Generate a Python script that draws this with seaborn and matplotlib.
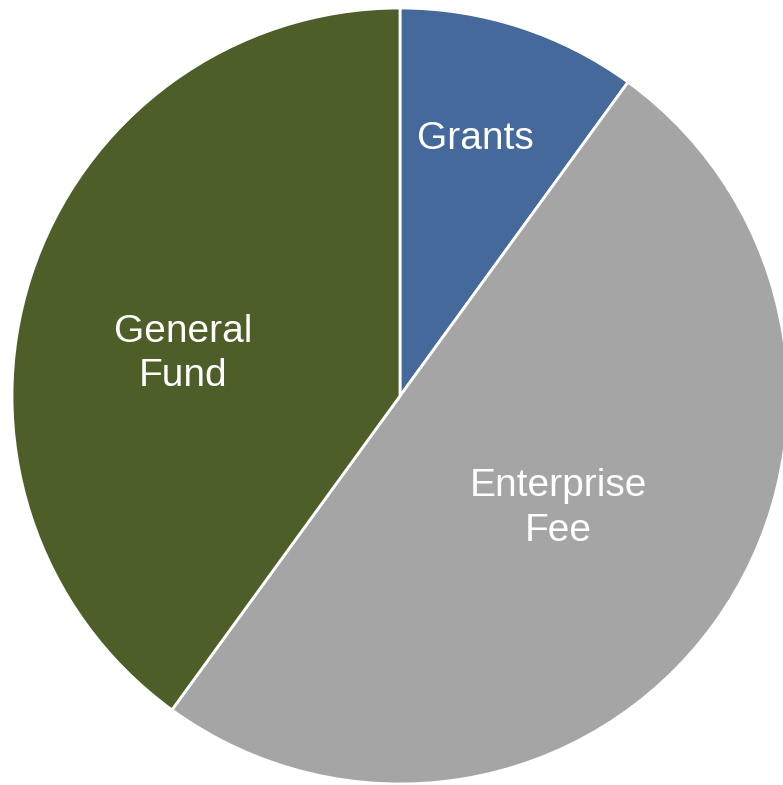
import numpy as np
import matplotlib
matplotlib.use("Agg")
import matplotlib.pyplot as plt
import seaborn as sns

sns.set_theme(style="white")
plt.rcParams['font.family'] = ['Liberation Sans', 'DejaVu Sans']

# data
labels = ['Grants', 'Enterprise\nFee', 'General\nFund']
shares = [10, 50, 40]
colors = ['#46699C', '#A5A5A5', '#4E5E29']
# how far from centre each label sits (fraction of radius)
label_r = [0.69, 0.50, 0.57]
label_shift = [1.6, 0.6, 7.0]  # degrees nudge on mid angle

fig = plt.figure(figsize=(7.83, 7.85), dpi=100)
ax = fig.add_axes([0.0153, 0.0013, 0.9911, 0.9885])

wedges, _ = ax.pie(shares, colors=colors, startangle=90, counterclock=False,
                   wedgeprops={'edgecolor': 'white', 'linewidth': 2})

for w, lab, r, sh in zip(wedges, labels, label_r, label_shift):
    mid = np.deg2rad((w.theta1 + w.theta2) / 2 + sh)
    ax.text(r * np.cos(mid), r * np.sin(mid), lab, ha='center', va='center',
            color='white', fontsize=28, linespacing=1.3)

ax.set_xlim(-1, 1)
ax.set_ylim(-1, 1)
ax.set_aspect('equal')
ax.axis('off')

fig.savefig('out.png', dpi=100)
